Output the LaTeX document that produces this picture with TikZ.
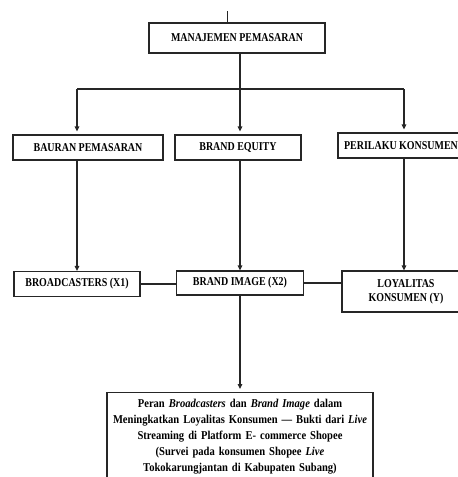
\documentclass[tikz,border=0pt]{standalone}
\usepackage{fontspec}
\setmainfont{Liberation Serif}
\newfontfamily\narrowfont[FakeStretch=0.83]{Liberation Serif}
\newfontfamily\titlefont[FakeStretch=0.88]{Liberation Serif}
\usetikzlibrary{arrows.meta}

\begin{document}
\begin{tikzpicture}[x=1pt, y=-1pt,
    box/.style={draw=black!85, line width=1.2pt, fill=white, inner sep=2pt, align=center,
      font=\narrowfont\bfseries\fontsize{12}{14}\selectfont},
    link/.style={draw=black!85, line width=1.2pt},
    arr/.style={link, -{Triangle[length=5pt, width=4.5pt]}}]

    % Page frame
    \useasboundingbox (0,0) rectangle (458,477);
    \clip (0,0) rectangle (458,477);

    % Top box
    \node[box, minimum width=176pt, minimum height=30pt] (manajemen) at (237,38) {MANAJEMEN PEMASARAN};
    \coordinate (stub) at (227,11);
    \draw[link, line width=0.6pt] (stub) -- (stub |- manajemen.north);

    % Second row
    \node[box, minimum width=150pt, minimum height=25pt] (bauran) at (88,147.5) {BAURAN PEMASARAN};
    \node[box, minimum width=126pt, minimum height=25pt] (equity) at (238,147.5) {BRAND EQUITY};
    \node[box, minimum width=126pt, minimum height=25pt] (perilaku) at (401,145.5) {PERILAKU KONSUMEN};

    % Third row
    \node[box, minimum width=126pt, minimum height=25pt] (broad) at (77,284) {BROADCASTERS (X1)};
    \node[box, minimum width=127pt, minimum height=24pt] (image) at (240,283) {BRAND IMAGE (X2)};
    \node[box, minimum width=128pt, minimum height=41pt] (loyal) at (406,291.5) {LOYALITAS\\KONSUMEN (Y)};

    % Bottom box
    \node[box, anchor=north, text width=258pt, inner xsep=4pt, inner ysep=7pt,
      font=\titlefont\bfseries\fontsize{12}{15.8}\selectfont] (judul) at (240,392)
      {Peran \textit{Broadcasters} dan \textit{Brand Image} dalam\\
       Meningkatkan Loyalitas Konsumen — Bukti dari \textit{Live}\\
       Streaming di Platform E- commerce Shopee\\
       (Survei pada konsumen Shopee \textit{Live}\\
       Tokokarungjantan di Kabupaten Subang)\\ \strut};

    % Split from top box
    \coordinate (splitL) at (77,89);
    \coordinate (splitM) at (240,89);
    \coordinate (splitR) at (404,89);
    \draw[link] (manajemen.south -| splitM) -- (splitM);
    \draw[link] (splitL) -- (splitR);
    \draw[arr, shorten >=3pt] (splitL) -- (bauran.north -| splitL);
    \draw[arr, shorten >=3pt] (splitM) -- (equity.north -| splitM);
    \draw[arr, shorten >=3pt] (splitR) -- (perilaku.north -| splitR);

    % Second row down to third row
    \draw[arr] (bauran.south -| broad) -- (broad.north);
    \draw[arr] (equity.south -| image) -- (image.north);
    \draw[arr] (perilaku.south -| splitR) -- (loyal.north -| splitR);

    % Links in third row
    \draw[link] (broad.east) -- (broad.east -| image.west);
    \draw[link] (image.east) -- (loyal.west |- image.east);

    % Down to bottom box
    \draw[arr, shorten >=3pt] (image.south) -- (judul.north);

\end{tikzpicture}
\end{document}
